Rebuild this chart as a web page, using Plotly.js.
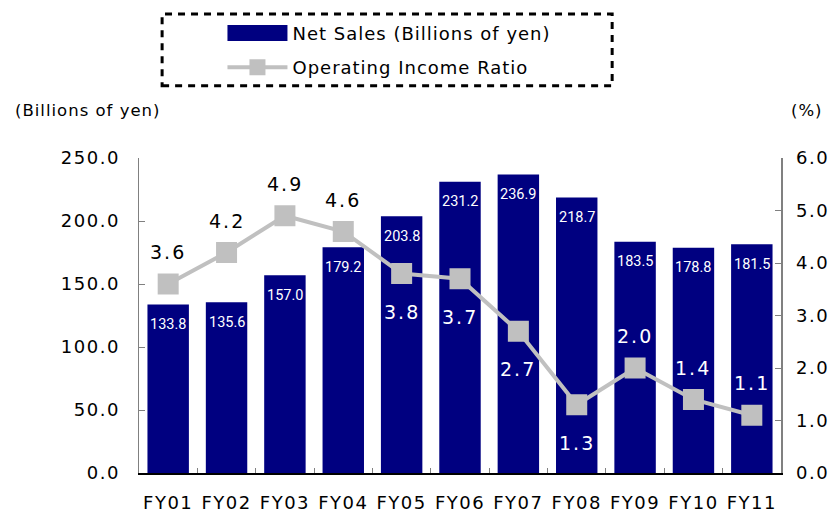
<!DOCTYPE html>
<html>
<head>
<meta charset="utf-8">
<script src="https://cdn.plot.ly/plotly-3.0.1.min.js"></script>
<style>
html,body{margin:0;padding:0;background:#fff;}
#chart{width:836px;height:515px;}
.xtick text,.ytick text,.y2tick text{letter-spacing:1.5px;}
.legendtext{letter-spacing:1px;}
</style>
</head>
<body>
<div id="chart"></div>
<script>
const categories = ['FY01','FY02','FY03','FY04','FY05','FY06','FY07','FY08','FY09','FY10','FY11'];
const netSales = [133.8,135.6,157.0,179.2,203.8,231.2,236.9,218.7,183.5,178.8,181.5];
const opIncomeRatio = [3.6,4.2,4.9,4.6,3.8,3.7,2.7,1.3,2.0,1.4,1.1];
const leftTicks = [0,50,100,150,200,250];
const rightTicks = [0,1,2,3,4,5,6];

const NAVY = '#000080';
const GREY = '#c0c0c0';
const FONT = 'DejaVu Sans, Verdana, sans-serif';

// label placement for the ratio labels (styling, not data)
const ratioLabelBelow = [false,false,false,false,true,true,true,true,false,false,false];
const ratioLabelWhite = [false,false,false,false,true,true,true,true,true,true,true];

const annotations = [];
categories.forEach((c,i)=>{
  annotations.push({
    x:c, y:netSales[i], xref:'x', yref:'y', yshift:-20, showarrow:false,
    text:netSales[i].toFixed(1), font:{family:'Roboto, sans-serif', size:14.5, color:'#ffffff'}
  });
});
categories.forEach((c,i)=>{
  const below = ratioLabelBelow[i];
  const white = ratioLabelWhite[i];
  annotations.push({
    x:c, y:opIncomeRatio[i], xref:'x', yref:'y2', yshift: below ? -38 : 32, showarrow:false,
    text:'<span style="letter-spacing:2px">'+opIncomeRatio[i].toFixed(1)+'</span>',
    font:{family:FONT, size:19, color: white ? '#ffffff' : '#000000'}
  });
});
annotations.push({
  x:0, xref:'paper', xanchor:'left', xshift:-126, y:1, yref:'paper', yanchor:'bottom', yshift:36,
  showarrow:false, text:'<span style="letter-spacing:1px">(Billions of yen)</span>', font:{family:FONT, size:16.5, color:'#000'}
});
annotations.push({
  x:1, xref:'paper', xanchor:'left', xshift:8, y:1, yref:'paper', yanchor:'bottom', yshift:36,
  showarrow:false, text:'<span style="letter-spacing:1px">(%)</span>', font:{family:FONT, size:16.5, color:'#000'}
});

const traces = [
  {type:'bar', name:'Net Sales (Billions of yen)', x:categories, y:netSales, legendgroup:'a',
   marker:{color:NAVY}, yaxis:'y', hoverinfo:'x+y'},
  {type:'scatter', mode:'lines+markers', name:'Operating Income Ratio', x:categories, y:opIncomeRatio, legendgroup:'b',
   yaxis:'y2', line:{color:GREY, width:4}, marker:{symbol:'square', size:21, color:GREY}}
];

const layout = {
  width:836, height:515,
  margin:{l:139, r:55, t:158, b:42},
  paper_bgcolor:'#fff', plot_bgcolor:'#fff',
  font:{family:FONT, size:18, color:'#000'},
  bargap:0.29,
  showlegend:true,
  legend:{x:0.13, xanchor:'left', y:1.455, yanchor:'top', orientation:'v',
    font:{family:FONT, size:18, color:'#000'}, bgcolor:'rgba(0,0,0,0)', traceorder:'grouped',
    itemwidth:60, tracegroupgap:8},
  xaxis:{type:'category', range:[-0.5,10.5], showline:true, linecolor:'#000000', linewidth:2,
    ticks:'inside', tickson:'boundaries', ticklen:5, tickcolor:'#808080', ticklabelstandoff:12,
    tickfont:{family:FONT, size:18}, showgrid:false, zeroline:false, fixedrange:true},
  yaxis:{range:[0,250], tickvals:leftTicks, ticktext:leftTicks.map(v=>v.toFixed(1)),
    showline:true, linecolor:'#808080', linewidth:1.5, ticks:'inside', ticklen:6, tickcolor:'#808080',
    showgrid:false, zeroline:false, tickfont:{family:FONT, size:18}, ticklabelstandoff:14},
  yaxis2:{range:[0,6], overlaying:'y', side:'right', tickvals:rightTicks, ticktext:rightTicks.map(v=>v.toFixed(1)),
    showline:true, linecolor:'#808080', linewidth:1.5, ticks:'inside', ticklen:6, tickcolor:'#808080',
    showgrid:false, zeroline:false, tickfont:{family:FONT, size:18}, ticklabelstandoff:10},
  shapes:[{type:'rect', xref:'paper', yref:'paper', x0:0.036, x1:0.737, y0:1.229, y1:1.457,
    line:{color:'#000', width:3, dash:'7px,6px'}, fillcolor:'rgba(0,0,0,0)'}],
  annotations:annotations
};

Plotly.newPlot('chart', traces, layout, {displayModeBar:false, staticPlot:true}).then(gd=>{
  // widen the bar legend swatch to match the reference
  const items = gd.querySelectorAll('.legend .traces');
  if (items.length) {
    const p = items[0].querySelector('.legendpoints path');
    if (p) p.setAttribute('d','M30,8H-30V-8H30Z');
  }
});
</script>
</body>
</html>
